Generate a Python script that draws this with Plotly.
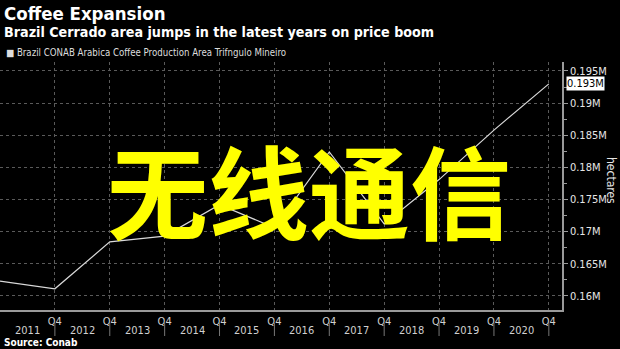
import plotly.graph_objects as go

# Data (thousand hectares, Q4 of each year)
years = [2010, 2011, 2012, 2013, 2014, 2015, 2016, 2017, 2018, 2019, 2020]
area_k = [162.3, 161.1, 168.4, 169.3, 174.2, 170.6, 182.4, 171.2, 178.1, 185.8, 193.0]
area = [v * 1000 for v in area_k]

q4_ticks = [2011, 2012, 2013, 2014, 2015, 2016, 2017, 2018, 2019, 2020]
year_labels = ["2011", "2012", "2013", "2014", "2015", "2016", "2017", "2018", "2019", "2020"]
y_ticks = [160000, 165000, 170000, 175000, 180000, 185000, 190000, 195000]
y_ticktext = ["0.16M", "0.165M", "0.17M", "0.175M", "0.18M", "0.185M", "0.19M", "0.195M"]

W, H = 620, 349
ML, MR, MT, MB = 0, 58, 62, 39
PW = W - ML - MR
PH = H - MT - MB
FONT = "DejaVu Sans Condensed, DejaVu Sans, sans-serif"


def px(x, y):
    return (x - ML) / PW, (H - MB - y) / PH


fig = go.Figure()
fig.add_trace(go.Scatter(x=years, y=area, mode="lines",
                         line=dict(color="#d9d9d9", width=1.2),
                         showlegend=False, hoverinfo="skip"))

fig.update_layout(
    width=W, height=H,
    margin=dict(l=ML, r=MR, t=MT, b=MB),
    paper_bgcolor="black", plot_bgcolor="black",
    font=dict(family=FONT, color="#e6e6e6", size=11),
    xaxis=dict(range=[2010, 2020.24], tickvals=q4_ticks, ticktext=["Q4"] * len(q4_ticks),
               showgrid=True, gridcolor="#5a5a5a", griddash="dot", gridwidth=1,
               showline=True, linecolor="#9a9a9a", linewidth=1.5,
               ticks="", zeroline=False, tickfont=dict(size=11, color="#d0d0d0")),
    yaxis=dict(side="right", range=[157800, 196400], tickvals=y_ticks, ticktext=y_ticktext,
               showgrid=True, gridcolor="#5a5a5a", griddash="dot", gridwidth=1,
               showline=True, linecolor="#9a9a9a", linewidth=1.5,
               ticks="outside", ticklen=4, tickcolor="#9a9a9a", zeroline=False,
               minor=dict(dtick=2500, ticks="outside", ticklen=3, tickcolor="#9a9a9a", showgrid=False),
               tickfont=dict(size=11, color="#e6e6e6")),
)

# Year labels and separators
for yv, lab in zip(q4_ticks, year_labels):
    fig.add_annotation(x=yv - 0.5, y=px(0, 330)[1], xref="x", yref="paper", text=lab,
                       showarrow=False, font=dict(size=11, color="#d0d0d0"),
                       xanchor="center", yanchor="middle")
    fig.add_shape(type="line", x0=yv, x1=yv, y0=px(0, 323)[1], y1=px(0, 336)[1],
                  xref="x", yref="paper", line=dict(color="#777777", width=1))

anns = [
    (2, 14, "<b>Coffee Expansion</b>", 18.5, "white"),
    (2, 32, "<b>Brazil Cerrado area jumps in the latest years on price boom</b>", 14.2, "white"),
    (4, 52, "■ Brazil CONAB Arabica Coffee Production Area Trifngulo Mineiro", 9.6, "#dddddd"),
    (2, 342, "<b>Source: Conab</b>", 10, "white"),
]
for x, y, t, s, c in anns:
    xp, yp = px(x, y)
    fig.add_annotation(x=xp, y=yp, xref="paper", yref="paper", text=t, showarrow=False,
                       xanchor="left", yanchor="middle", font=dict(size=s, color=c))

# Axis title
xp, yp = px(611, 180)
fig.add_annotation(x=xp, y=yp, xref="paper", yref="paper", text="hectares", textangle=90,
                   showarrow=False, xanchor="center", yanchor="middle",
                   font=dict(size=12, color="#e6e6e6"))

# Last value label
fig.add_annotation(x=1, y=area[-1], xref="paper", yref="y", text="0.193M", showarrow=False,
                   xanchor="left", yanchor="middle", xshift=4, bgcolor="white",
                   font=dict(size=11, color="black"), borderpad=0)

# Watermark
xp, yp = px(309, 188)
fig.add_annotation(x=xp, y=yp, xref="paper", yref="paper", text="<b>无线通信</b>", showarrow=False,
                   xanchor="center", yanchor="middle",
                   font=dict(size=101, color="#ffff00", family="Noto Sans CJK SC"))

fig.write_html("out.html")
